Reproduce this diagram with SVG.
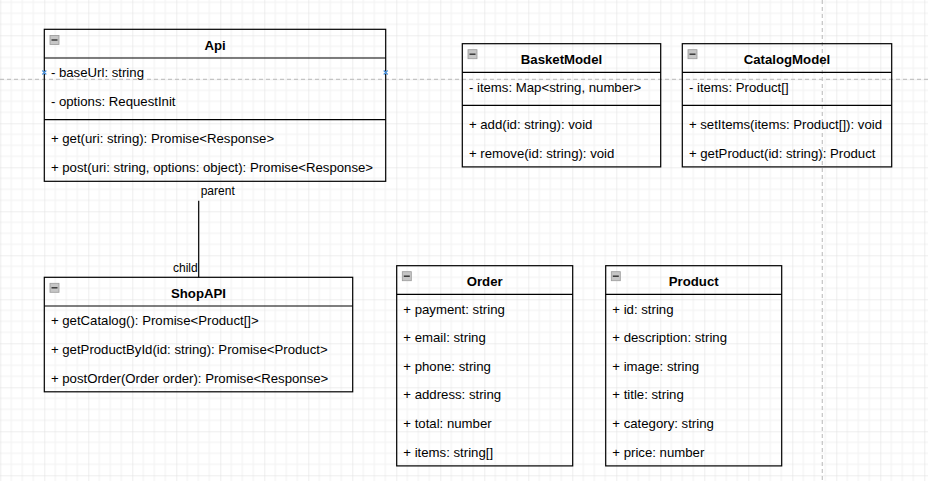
<svg xmlns="http://www.w3.org/2000/svg" width="928" height="481" viewBox="0 0 928 481">
<style>
.box{fill:none;stroke:#000;stroke-width:1.2}
.ln{stroke:#000;stroke-width:1.2;fill:none}
.t{font-family:"Liberation Sans",Arial,sans-serif;font-size:13.2px;fill:#000}
.h{font-family:"Liberation Sans",Arial,sans-serif;font-size:13.2px;font-weight:bold;fill:#000;text-anchor:middle}
.lbl{font-family:"Liberation Sans",Arial,sans-serif;font-size:12px;fill:#000}
.guide{stroke:#c4c4c4;stroke-width:1.2;stroke-dasharray:4 3;fill:none}
.mk{stroke:#4a90d9;stroke-width:1.2;fill:none}
</style>
<defs>
<pattern id="grid" x="0.3" y="35.3" width="44" height="44" patternUnits="userSpaceOnUse">
<path d="M11 0V44M22 0V44M33 0V44M0 11H44M0 22H44M0 33H44" stroke="#f1f1f1" stroke-width="1"/>
<path d="M0 0V44M0 0H44" stroke="#dedede" stroke-width="1"/>
</pattern>
<g id="collapse">
<rect x="0" y="0" width="9" height="9" fill="#c6c6c6" stroke="#9a9a9a" stroke-width="0.8"/>
<line x1="1.5" y1="4.5" x2="7.5" y2="4.5" stroke="#303030" stroke-width="1.4"/>
</g>
</defs>
<rect x="0" y="0" width="928" height="481" fill="#fff"/>
<rect x="0" y="0" width="928" height="481" fill="url(#grid)"/>

<g id="guides">
<line class="guide" x1="0" y1="79.3" x2="928" y2="79.3"/>
<line class="guide" x1="822.3" y1="0" x2="822.3" y2="481"/>
</g>

<g id="connectors">
<line class="ln" x1="198.7" y1="200.7" x2="198.7" y2="277.3"/>
<text class="lbl" x="200.7" y="194.5">parent</text>
<text class="lbl" x="197.7" y="272" text-anchor="end">child</text>
</g>

<g id="Api">
<rect class="box" x="44.3" y="29.3" width="341.4" height="152"/>
<line class="ln" x1="44.3" y1="58" x2="385.7" y2="58"/>
<line class="ln" x1="44.3" y1="119.6" x2="385.7" y2="119.6"/>
<use href="#collapse" x="50" y="35.5"/>
<text class="h" x="215" y="50">Api</text>
<text class="t" x="50.9" y="77.3">- baseUrl: string</text>
<text class="t" x="50.9" y="105.9">- options: RequestInit</text>
<text class="t" x="50.9" y="143.3">+ get(uri: string): Promise&lt;Response&gt;</text>
<text class="t" x="50.9" y="171.9">+ post(uri: string, options: object): Promise&lt;Response&gt;</text>
<path class="mk" d="M42.3 70.5l4 4M46.3 70.5l-4 4M383.7 70.5l4 4M387.7 70.5l-4 4"/>
</g>

<g id="BasketModel">
<rect class="box" x="462.3" y="43.7" width="198.4" height="123.2"/>
<line class="ln" x1="462.3" y1="72.3" x2="660.7" y2="72.3"/>
<line class="ln" x1="462.3" y1="105.3" x2="660.7" y2="105.3"/>
<use href="#collapse" x="468" y="49.7"/>
<text class="h" x="561.5" y="64.4">BasketModel</text>
<text class="t" x="468.9" y="91.6">- items: Map&lt;string, number&gt;</text>
<text class="t" x="468.9" y="129">+ add(id: string): void</text>
<text class="t" x="468.9" y="157.6">+ remove(id: string): void</text>
</g>

<g id="CatalogModel">
<rect class="box" x="682.3" y="43.7" width="209.4" height="123.2"/>
<line class="ln" x1="682.3" y1="72.3" x2="891.7" y2="72.3"/>
<line class="ln" x1="682.3" y1="105.3" x2="891.7" y2="105.3"/>
<use href="#collapse" x="688" y="49.7"/>
<text class="h" x="787" y="64.4">CatalogModel</text>
<text class="t" x="688.9" y="91.6">- items: Product[]</text>
<text class="t" x="688.9" y="129">+ setItems(items: Product[]): void</text>
<text class="t" x="688.9" y="157.6">+ getProduct(id: string): Product</text>
</g>

<g id="ShopAPI">
<rect class="box" x="44.3" y="277.3" width="308.4" height="114.5"/>
<line class="ln" x1="44.3" y1="306" x2="352.7" y2="306"/>
<use href="#collapse" x="50" y="283.3"/>
<text class="h" x="198.5" y="298">ShopAPI</text>
<text class="t" x="50.9" y="325.3">+ getCatalog(): Promise&lt;Product[]&gt;</text>
<text class="t" x="50.9" y="353.9">+ getProductById(id: string): Promise&lt;Product&gt;</text>
<text class="t" x="50.9" y="382.5">+ postOrder(Order order): Promise&lt;Response&gt;</text>
</g>

<g id="Order">
<rect class="box" x="396.7" y="265.7" width="176" height="200.2"/>
<line class="ln" x1="396.7" y1="294.3" x2="572.7" y2="294.3"/>
<use href="#collapse" x="402.3" y="271.7"/>
<text class="h" x="484.7" y="286.4">Order</text>
<text class="t" x="403.3" y="313.6">+ payment: string</text>
<text class="t" x="403.3" y="342.2">+ email: string</text>
<text class="t" x="403.3" y="370.8">+ phone: string</text>
<text class="t" x="403.3" y="399.4">+ address: string</text>
<text class="t" x="403.3" y="428">+ total: number</text>
<text class="t" x="403.3" y="456.6">+ items: string[]</text>
</g>

<g id="Product">
<rect class="box" x="605.7" y="265.7" width="176" height="200.2"/>
<line class="ln" x1="605.7" y1="294.3" x2="781.7" y2="294.3"/>
<use href="#collapse" x="611.3" y="271.7"/>
<text class="h" x="693.7" y="286.4">Product</text>
<text class="t" x="612.3" y="313.6">+ id: string</text>
<text class="t" x="612.3" y="342.2">+ description: string</text>
<text class="t" x="612.3" y="370.8">+ image: string</text>
<text class="t" x="612.3" y="399.4">+ title: string</text>
<text class="t" x="612.3" y="428">+ category: string</text>
<text class="t" x="612.3" y="456.6">+ price: number</text>
</g>
</svg>
